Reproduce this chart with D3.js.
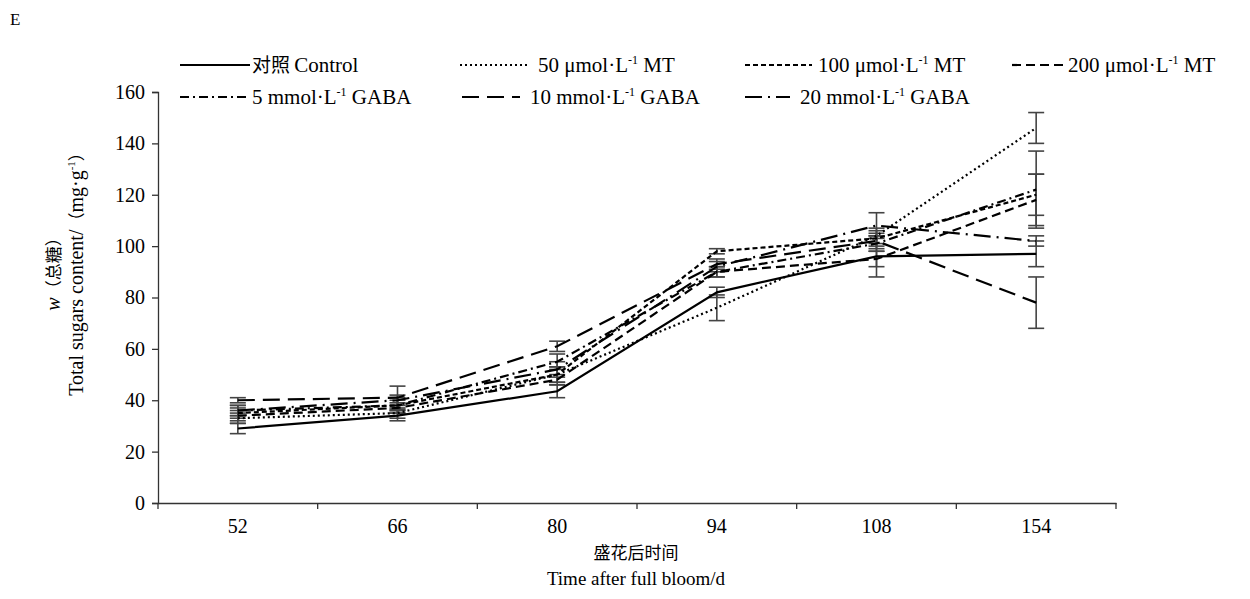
<!DOCTYPE html>
<html><head><meta charset="utf-8">
<script src="https://cdn.jsdelivr.net/npm/d3@7"></script>
<style>
body{margin:0;background:#fff;}
text{font-family:"Liberation Serif","Times New Roman",serif;fill:#000;}
.cjk{font-family:"Noto Sans CJK SC",sans-serif;}
</style></head>
<body><svg id="c" width="1250" height="599"></svg>
<script>
const categories = ["52","66","80","94","108","154"];
const seriesNames = ["对照 Control","50 μmol·L-1 MT","100 μmol·L-1 MT","200 μmol·L-1 MT","5 mmol·L-1 GABA","10 mmol·L-1 GABA","20 mmol·L-1 GABA"];
const control   = [29, 34, 43.5, 82, 96, 97];
const mt50      = [33, 35, 50, 76, 104, 146];
const mt100     = [35, 38, 50, 98, 103, 120];
const mt200     = [34, 37, 48, 90, 95, 118];
const gaba5     = [36, 38, 55, 90, 101, 122];
const gaba10    = [40, 41, 61, 93, 102, 78];
const gaba20    = [36, 40, 52, 92, 108, 102];
const errControl= [2, 2, 2.5, 2, 8, 5];
const errMt50   = [2, 2, 3, 5, 3, 6];
const errMt100  = [2, 2, 3, 1, 3, 8];
const errMt200  = [2, 2, 2, 2, 3, 10];
const errGaba5  = [2, 3, 3, 2, 3, 15];
const errGaba10 = [1, 4.5, 2, 2, 3, 10];
const errGaba20 = [2, 2, 3, 2, 5, 2];
const yTicks = [0,20,40,60,80,100,120,140,160];

const values = [control, mt50, mt100, mt200, gaba5, gaba10, gaba20];
const errs = [errControl, errMt50, errMt100, errMt200, errGaba5, errGaba10, errGaba20];
const dashes = [null, "2,3", "5,3", "9,5", "9,4,2,4", "17,8", "17,6,2,6"];

const svg = d3.select("#c");
const L = 158, R = 1116, T = 92, B = 503;
const x = d3.scaleBand().domain(categories).range([L, R]);
const y = d3.scaleLinear().domain([0,160]).range([B, T]);

svg.append("text").attr("x",10).attr("y",25).attr("font-size",17).text("E");

// y axis
const ya = svg.append("g").attr("transform",`translate(${L},0)`)
  .call(d3.axisLeft(y).tickValues(yTicks).tickSize(6).tickPadding(7));
ya.select(".domain").attr("stroke","#333").attr("stroke-width",1.3);
ya.selectAll(".tick line").attr("stroke","#333").attr("stroke-width",1.3);
ya.selectAll(".tick text").attr("font-size",20);

// x axis
const xa = svg.append("g").attr("transform",`translate(0,${B})`)
  .call(d3.axisBottom(x).tickSize(0).tickPadding(16));
xa.select(".domain").attr("stroke","#333").attr("stroke-width",1.3);
xa.selectAll(".tick text").attr("font-size",20);
xa.selectAll("line.bd").data(d3.range(categories.length+1)).enter().append("line")
  .attr("x1",i=>L+i*x.bandwidth()).attr("x2",i=>L+i*x.bandwidth())
  .attr("y1",0).attr("y2",6).attr("stroke","#333").attr("stroke-width",1.3);

// error bars
const cx = c => x(c) + x.bandwidth()/2;
values.forEach((vals, si) => {
  const g = svg.append("g").attr("stroke","#444").attr("stroke-width",1.6);
  categories.forEach((c,i) => {
    const v = vals[i], e = errs[si][i];
    g.append("line").attr("x1",cx(c)).attr("x2",cx(c)).attr("y1",y(v-e)).attr("y2",y(v+e));
    [v-e, v+e].forEach(t => g.append("line").attr("x1",cx(c)-8).attr("x2",cx(c)+8).attr("y1",y(t)).attr("y2",y(t)));
  });
});

// lines
const line = d3.line().x((d,i)=>cx(categories[i])).y(d=>y(d));
values.forEach((vals, si) => {
  svg.append("path").datum(vals).attr("d",line).attr("fill","none")
    .attr("stroke","#000").attr("stroke-width",2.2)
    .attr("stroke-dasharray",dashes[si]);
});

// legend
const legPos = [
  {x1:180,x2:250,tx:252,y:65},{x1:460,x2:530,tx:538,y:65},{x1:745,x2:812,tx:818,y:65},{x1:1012,x2:1066,tx:1068,y:65},
  {x1:180,x2:250,tx:252,y:97},{x1:462,x2:520,tx:530,y:97},{x1:745,x2:790,tx:800,y:97}
];
seriesNames.forEach((name, si) => {
  const p = legPos[si];
  svg.append("line").attr("x1",p.x1).attr("x2",p.x2).attr("y1",p.y).attr("y2",p.y)
    .attr("stroke","#000").attr("stroke-width",2.2).attr("stroke-dasharray",dashes[si]);
  const t = svg.append("text").attr("x",p.tx).attr("y",p.y+7).attr("font-size",21);
  const m = name.match(/^(.*L)-1(.*)$/);
  if (m) {
    t.append("tspan").text(m[1]);
    t.append("tspan").attr("dy",-8).attr("font-size",12).text("-1");
    t.append("tspan").attr("dy",8).text(m[2]);
  } else {
    const parts = name.split(" ");
    t.append("tspan").attr("class","cjk").attr("font-size",19).text(parts[0]+" ");
    t.append("tspan").text(parts.slice(1).join(" "));
  }
});

// y label
const yl = svg.append("g").attr("transform","translate(0,270) rotate(-90)");
const t1 = yl.append("text").attr("x",0).attr("y",60).attr("text-anchor","middle").attr("font-size",20);
t1.append("tspan").attr("font-style","italic").text("w");
t1.append("tspan").attr("class","cjk").attr("font-size",17).text("（总糖）");
const t2 = yl.append("text").attr("x",0).attr("y",83).attr("text-anchor","middle").attr("font-size",20);
t2.append("tspan").text("Total sugars content/");
t2.append("tspan").attr("class","cjk").attr("font-size",17).text("（");
t2.append("tspan").text("mg·g");
t2.append("tspan").attr("dy",-8).attr("font-size",11).text("-1");
t2.append("tspan").attr("dy",8).attr("class","cjk").attr("font-size",17).text("）");

// x label
svg.append("text").attr("class","cjk").attr("x",636).attr("y",559).attr("text-anchor","middle").attr("font-size",17).text("盛花后时间");
svg.append("text").attr("x",636).attr("y",585).attr("text-anchor","middle").attr("font-size",19).text("Time after full bloom/d");
</script></body></html>
